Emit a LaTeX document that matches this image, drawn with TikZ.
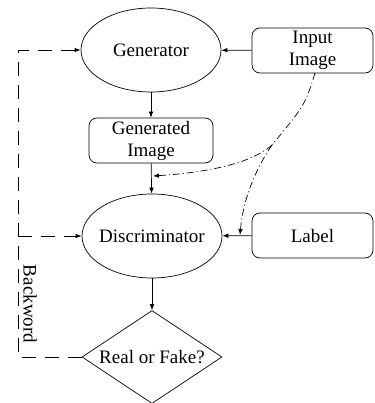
\documentclass[tikz,border=0pt]{standalone}
\usepackage{fontspec}
\setmainfont{Liberation Serif}
\usetikzlibrary{arrows.meta,shapes.geometric}
\begin{document}
\begin{tikzpicture}[x=1pt,y=-1pt,
  every node/.style={font=\fontsize{19}{22}\selectfont},
  ell/.style={ellipse,draw,line width=0.7pt,minimum width=140pt,minimum height=84pt,inner sep=0pt},
  rbox/.style={draw,line width=0.7pt,rounded corners=8pt,minimum width=121pt,minimum height=45pt,inner sep=0pt,align=center},
  dec/.style={diamond,draw,line width=0.7pt,aspect=1.5,minimum width=140pt,minimum height=93pt,inner sep=0pt},
  arr/.style={line width=0.7pt,-{Latex[length=6pt,width=4.5pt]}},
  fb/.style={line width=0.8pt,dash pattern=on 14pt off 9pt},
  dd/.style={line width=0.7pt,dash pattern=on 7pt off 3pt on 1pt off 3pt}
]
\useasboundingbox (0,0) rectangle (374,403);
\node[ell] (gen) at (151,50) {\makebox[0pt]{Generator}};
\node[rbox] (inp) at (312.5,50.5) {Input\\Image};
\node[rbox,minimum width=124pt] (gim) at (151,140.5) {Generated\\Image};
\node[ell] (disc) at (152,236) {\makebox[0pt]{Discriminator}};
\node[rbox] (lab) at (312.5,235.5) {Label};
\node[dec] (rf) at (152,357) {\makebox[0pt]{Real or Fake?}};
\coordinate (c1) at (18,357);
\coordinate (bj) at (18,236);
\coordinate (p1) at (153,176);
\coordinate (p2) at (240,235);
\coordinate (s) at (315,73);
\coordinate (b) at (272,145);
\draw[arr] (gen) -- (gim);
\draw[arr] (gim) -- (disc);
\draw[arr] (inp) -- (gen);
\draw[arr] (lab) -- (disc);
\draw[arr] (disc) -- (rf);
\draw[fb,-{Latex[length=6pt,width=4.5pt]}] (rf.west) -- (c1) |- (gen.west);
\draw[fb,-{Latex[length=6pt,width=4.5pt]}] (bj) -- (disc.west);
\draw[dd] (s) .. controls (305,105) .. (b);
\draw[dd,-{Latex[length=6pt,width=4.5pt]}] (b) .. controls (250,165) and (200,173) .. (p1);
\draw[dd,-{Latex[length=6pt,width=4.5pt]}] (b) .. controls (255,170) and (243,200) .. (p2);
\node[rotate=-90] (bw) at (30,304) {Backword};
\end{tikzpicture}
\end{document}
